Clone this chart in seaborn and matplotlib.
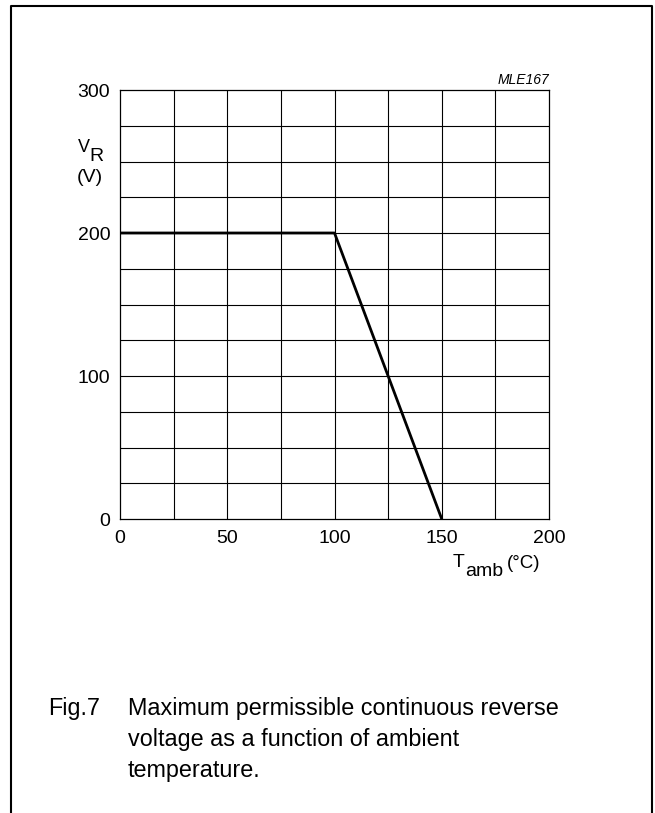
import pandas as pd
import matplotlib.pyplot as plt
import seaborn as sns
from matplotlib.lines import Line2D

# Data
t_amb = [0, 100, 150]
v_r = [200, 200, 0]
x_ticks = [0, 50, 100, 150, 200]
y_ticks = [0, 100, 200, 300]

sns.set_style('white')
plt.rcParams['font.family'] = ['Liberation Sans', 'DejaVu Sans']
plt.rcParams['text.color'] = 'black'
plt.rcParams['xtick.color'] = 'black'
plt.rcParams['ytick.color'] = 'black'

W, H = 655, 813


def px(x, y):
    # pixel position -> figure fraction
    return x / W, 1 - y / H


df = pd.DataFrame({'t_amb': t_amb, 'v_r': v_r})

fig = plt.figure(figsize=(W / 100, H / 100), dpi=100)
ax = fig.add_axes([120 / W, 1 - 519 / H, 429 / W, 429 / H])

# grid every 25 units
for x in range(25, 200, 25):
    ax.axvline(x, color='black', lw=0.8, zorder=1)
for y in range(25, 300, 25):
    ax.axhline(y, color='black', lw=0.8, zorder=1)

sns.lineplot(data=df, x='t_amb', y='v_r', color='black', lw=2, ax=ax, zorder=3)

ax.set_xlim(0, 200)
ax.set_ylim(0, 300)
ax.set_xticks(x_ticks)
ax.set_yticks(y_ticks)
ax.tick_params(length=0, labelsize=14)
ax.tick_params(axis='x', pad=8)
ax.tick_params(axis='y', pad=7)
ax.set_xlabel('')
ax.set_ylabel('')
for s in ax.spines.values():
    s.set_visible(True)
    s.set_color('black')
    s.set_linewidth(0.9)

# y axis label: V_R (V)
fig.text(*px(78, 152), 'V', fontsize=13, va='baseline')
fig.text(*px(89, 161), 'R', fontsize=14, va='baseline')
fig.text(*px(90, 177), '(V)', fontsize=14, ha='center', va='center')

# x axis label: T_amb (°C)
fig.text(*px(453, 567), 'T', fontsize=14, va='baseline')
fig.text(*px(465, 576), 'amb', fontsize=14, va='baseline')
fig.text(*px(507, 568), '(°C)', fontsize=13.5, va='baseline')

ax.text(1.0, 1.008, 'MLE167', transform=ax.transAxes, ha='right',
        va='bottom', fontsize=10, style='italic')

# caption
cap_size = 16.8
fig.text(*px(48, 715), 'Fig.7', fontsize=cap_size, va='baseline')
fig.text(*px(128, 715), 'Maximum permissible continuous reverse',
         fontsize=cap_size, va='baseline')
fig.text(*px(128, 746), 'voltage as a function of ambient',
         fontsize=cap_size, va='baseline')
fig.text(*px(128, 777), 'temperature.', fontsize=cap_size, va='baseline')

# outer frame (open at the bottom)
fx = [11 / W, 11 / W, 652 / W, 652 / W]
fy = [0, 1 - 6 / H, 1 - 6 / H, 0]
fig.add_artist(Line2D(fx, fy, color='black', lw=1.5, transform=fig.transFigure))

plt.savefig('out.png', dpi=100)
